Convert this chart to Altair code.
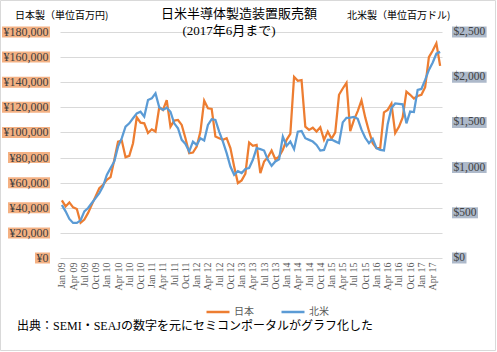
import altair as alt
import pandas as pd

years = ["09", "10", "11", "12", "13", "14", "15", "16", "17"]
mnames = ["Jan", "Feb", "Mar", "Apr", "May", "Jun", "Jul", "Aug", "Sep", "Oct", "Nov", "Dec"]
months = [f"{m} {y}" for y in years for m in mnames][:102]

japan = [
    45900, 41100, 44300, 40300, 39000, 28000, 30600, 35900, 42500, 49100, 55700, 58300,
    62300, 64400, 78200, 92700, 93500, 80300, 81400, 91400, 112100, 107800, 107300, 99600,
    102500, 100700, 120000, 117900, 125800, 104600, 109400, 109900, 106000, 95400, 83500, 84000,
    88700, 100700, 125300, 119200, 118700, 96700, 95400, 94100, 95400, 87500, 72900, 59700,
    61800, 67100, 91900, 89300, 90100, 67600, 76900, 80300, 85600, 78700, 80800, 86100,
    94100, 98800, 144300, 141100, 141700, 104600, 102000, 103800, 100700, 104100, 94100, 100700,
    95000, 100000, 130000, 135000, 139500, 101000, 110000, 117000, 125500, 112000, 101000, 91500,
    87500, 87500, 116000, 118000, 123000, 99500, 104500, 112000, 132500, 130000, 127000, 129000,
    130000, 136000, 160000, 165000, 171000, 153000,
]
namerica = [
    586, 516, 432, 388, 388, 417, 516, 553, 608, 663, 718, 792,
    920, 994, 1068, 1232, 1325, 1453, 1490, 1546, 1600, 1618, 1564, 1747,
    1766, 1821, 1667, 1637, 1662, 1618, 1490, 1435, 1307, 1262, 1178, 1288,
    1251, 1325, 1299, 1472, 1535, 1527, 1398, 1288, 1160, 1012, 920, 960,
    940, 985, 995, 1086, 1215, 1204, 1189, 1086, 1020, 1068, 1093, 1343,
    1240, 1288, 1204, 1398, 1405, 1325, 1307, 1288, 1251, 1189, 1196, 1307,
    1310, 1290, 1270, 1500, 1550, 1553, 1560, 1540, 1420, 1330, 1270, 1317,
    1215, 1196, 1190, 1480, 1660, 1710, 1705, 1700, 1490, 1620, 1615, 1860,
    1870, 1970, 2080, 2160, 2260, 2280,
]
yen_ticks = [0, 20000, 40000, 60000, 80000, 100000, 120000, 140000, 160000, 180000]
usd_ticks = [0, 500, 1000, 1500, 2000, 2500]
series_names = ["日本", "北米"]
series_colors = ["#ED7D31", "#5B9BD5"]

title_lines = ["日米半導体製造装置販売額", "(2017年6月まで)"]
left_header = "日本製（単位百万円)"
right_header = "北米製（単位百万ドル)"
footer = "出典：SEMI・SEAJの数字を元にセミコンポータルがグラフ化した"

df = pd.DataFrame({"month": months, "japan": japan, "na": namerica})

W, H = 382, 226
serif = "Liberation Serif, Noto Sans CJK JP"
sans = "Noto Sans CJK JP"

yen_scale = alt.Scale(domain=[0, 180000], nice=False)
usd_scale = alt.Scale(domain=[0, 2500], nice=False)
color_scale = alt.Scale(domain=series_names, range=series_colors)

x_enc = alt.X(
    "month:O", sort=months,
    scale=alt.Scale(type="point", padding=0.5),
    axis=alt.Axis(values=months[::3], labelAngle=270, labelFont=serif, labelFontSize=10,
                  labelColor="#595959", labelPadding=4, ticks=False, domain=False,
                  grid=False, title=None),
)

legend = alt.Legend(orient="none", legendX=145, legendY=267, direction="horizontal", title=None,
                    symbolType="stroke", symbolSize=529, symbolStrokeWidth=2.5,
                    labelFont=sans, labelFontSize=10, labelColor="#595959", labelOffset=3,
                    columnPadding=22, padding=0)
color_enc = alt.Color("series:N", scale=color_scale, legend=legend)

japan_line = alt.Chart(df).transform_calculate(series=f"'{series_names[0]}'").mark_line(strokeWidth=2.25).encode(
    x=x_enc,
    y=alt.Y("japan:Q", scale=yen_scale,
            axis=alt.Axis(values=yen_ticks, grid=True, gridColor="#d9d9d9", gridWidth=1,
                          labels=False, ticks=False, domain=False, title=None)),
    color=color_enc,
)
na_line = alt.Chart(df).transform_calculate(series=f"'{series_names[1]}'").mark_line(strokeWidth=2.25).encode(
    x=x_enc,
    y=alt.Y("na:Q", scale=usd_scale, axis=None),
    color=color_enc,
)


def tick_layers(ticks, prefix, scale, fill, anchor_x, side, cw):
    base = alt.Chart(pd.DataFrame({"v": ticks})).transform_calculate(
        label=f"'{prefix}' + format(datum.v, ',')"
    ).transform_calculate(
        w=f"{cw}*length(datum.label) - {cw / 2}*(length(datum.label) - length(replace(datum.label, ',', ''))) + 3"
    )
    if side == "left":
        base = base.transform_calculate(
            path="'M' + (-datum.w) + ',-5.5L0,-5.5L0,5.5L' + (-datum.w) + ',5.5Z'"
        )
        tx, align = anchor_x - 1.5, "right"
    else:
        base = base.transform_calculate(
            path="'M0,-5.5L' + datum.w + ',-5.5L' + datum.w + ',5.5L0,5.5Z'"
        )
        tx, align = anchor_x + 1.5, "left"
    box = base.mark_point(filled=True, size=4, opacity=1, fill=fill, strokeWidth=0).encode(
        x=alt.value(anchor_x),
        y=alt.Y("v:Q", scale=scale, axis=None),
        shape=alt.Shape("path:N", scale=None),
    )
    txt = base.mark_text(align=align, baseline="middle", font=serif, fontSize=cw * 2,
                         color="#404040").encode(
        x=alt.value(tx),
        y=alt.Y("v:Q", scale=scale, axis=None),
        text="label:N",
    )
    return [box, txt]


def text_layer(s, x, y, **kw):
    return alt.Chart(pd.DataFrame({"t": [s]})).mark_text(**kw).encode(
        x=alt.value(x), y=alt.value(y), text="t:N"
    )


border = alt.Chart(pd.DataFrame({"a": [0]})).mark_rect(
    fillOpacity=0, stroke="#d9d9d9", strokeWidth=1
).encode(x=alt.value(-59.5), x2=alt.value(435.5), y=alt.value(-31.5), y2=alt.value(318.5))

layers = [border, japan_line, na_line]
layers += tick_layers(yen_ticks, "¥", yen_scale, "#F4B183", -10, "left", 6)
layers += tick_layers(usd_ticks, "$", usd_scale, "#ADB9CA", 392, "right", 5.75)
layers += [
    text_layer(title_lines[0], 179, -18, align="center", baseline="middle", font=serif, fontSize=13, color="#000000"),
    text_layer(title_lines[1], 169, -1, align="center", baseline="middle", font=serif, fontSize=13, color="#000000"),
    text_layer(left_header, -45, -16, align="left", baseline="middle", font=sans, fontSize=10, color="#000000"),
    text_layer(right_header, 287, -16, align="left", baseline="middle", font=sans, fontSize=10, color="#000000"),
    text_layer(footer, -43, 294, align="left", baseline="middle", font=serif, fontSize=12, color="#000000"),
]

chart = alt.layer(*layers).resolve_scale(y="independent").properties(
    width=W, height=H,
    padding={"left": 60, "top": 32, "right": 55, "bottom": 94},
    autosize=alt.AutoSizeParams(type="none"),
    background="white",
).configure_view(stroke=None)

chart.save("out.html", embed_options={"renderer": "svg", "actions": False})
